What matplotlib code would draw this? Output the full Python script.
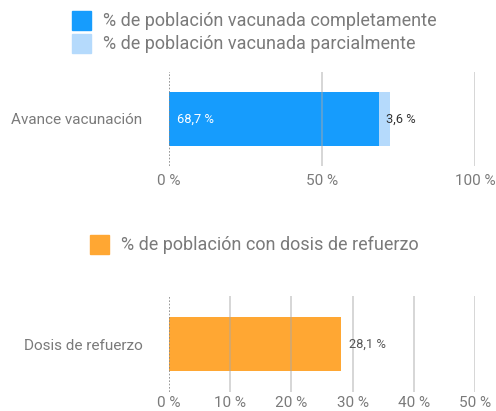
import matplotlib
matplotlib.use("Agg")
import matplotlib.pyplot as plt
from matplotlib.patches import Rectangle

plt.rcParams['font.family'] = ['Roboto', 'DejaVu Sans']

cat1 = ["Avance vacunación"]
completa = [68.7]
parcial = [3.6]
ticks1 = [0, 50, 100]
leg1 = ["% de población vacunada completamente", "% de población vacunada parcialmente"]

cat2 = ["Dosis de refuerzo"]
refuerzo = [28.1]
ticks2 = [0, 10, 20, 30, 40, 50]
leg2 = ["% de población con dosis de refuerzo"]

C_FULL = "#169cfd"
C_PART = "#b5dafc"
C_REF = "#ffa733"
GREY = "#7a7a7a"

W, H = 496, 411
fig = plt.figure(figsize=(W/100, H/100), dpi=100)

def ax_at(l, r, t, b):
    return fig.add_axes([l/W, 1 - b/H, (r-l)/W, (b-t)/H])

def style(ax, ticks, xmax, tpad):
    ax.set_xlim(0, xmax)
    ax.set_ylim(-0.5, 0.5)
    for s in ax.spines.values():
        s.set_visible(False)
    ax.set_xticks(ticks)
    ax.set_xticklabels([f"{t} %" for t in ticks])
    ax.tick_params(axis='x', length=0, pad=tpad, labelsize=11, labelcolor=GREY)
    ax.tick_params(axis='y', length=0, pad=19, labelsize=11, labelcolor=GREY)
    for t in ticks[1:]:
        ax.axvline(t, color="#a8a8a8", lw=1.3, alpha=0.5, zorder=5)
    ax.axvline(0, color="#888888", lw=1.2, ls=(0, (1, 1)), zorder=5)

# Chart 1
ax1 = ax_at(169, 475, 72, 166)
ax1.barh(cat1, completa, height=0.58, color=C_FULL, zorder=2)
ax1.barh(cat1, parcial, left=completa, height=0.58, color=C_PART, zorder=2)
style(ax1, ticks1, 100, 6)
ax1.text(2.6, 0, f"{completa[0]:.1f} %".replace(".", ","),
         color="white", fontsize=9.3, va="center", ha="left", zorder=6)
ax1.text(completa[0] + parcial[0] - 1.5, 0, f"{parcial[0]:.1f} %".replace(".", ","),
         color="#333333", fontsize=9.3, va="center", ha="left", zorder=6)

# Chart 2
ax2 = ax_at(169, 475, 296, 392)
ax2.barh(cat2, refuerzo, height=0.56, color=C_REF, zorder=2)
style(ax2, ticks2, 50, 3)
ax2.text(refuerzo[0] + 1.3, 0, f"{refuerzo[0]:.1f} %".replace(".", ","),
         color="#555555", fontsize=9.3, va="center", ha="left", zorder=6)

# Legends
def legend_item(x, y, color, label):
    fig.patches.append(Rectangle((x/W, 1 - (y+9.5)/H), 19/W, 19/H,
                                 transform=fig.transFigure, color=color))
    fig.text((x+31)/W, 1 - y/H, label, color=GREY, fontsize=13,
             va="center", ha="left")

legend_item(72, 21, C_FULL, leg1[0])
legend_item(72, 44, C_PART, leg1[1])
legend_item(90, 245, C_REF, leg2[0])

fig.savefig("out.png", dpi=100)
